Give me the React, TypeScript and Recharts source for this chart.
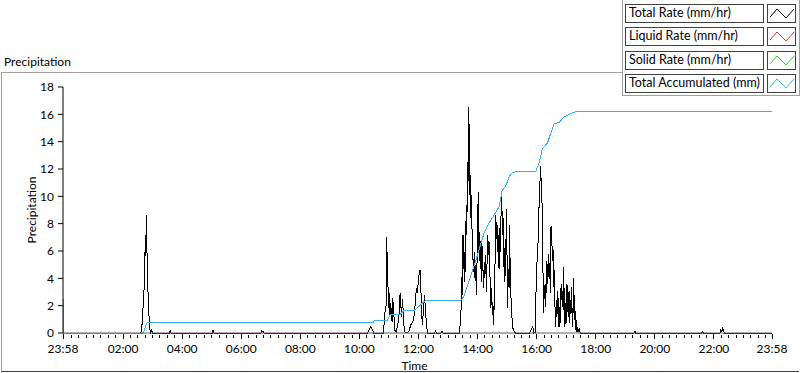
import { Line, LineChart, XAxis, YAxis } from "recharts";

const FONT = "Lato, 'Noto Sans', sans-serif";

// time axis: hours since 23:58 of the previous day
const timeLabels = ["23:58", "02:00", "04:00", "06:00", "08:00", "10:00", "12:00", "14:00", "16:00", "18:00", "20:00", "22:00", "23:58"];
const majorTickMinutes = [0, 122, 242, 362, 482, 602, 722, 842, 962, 1082, 1202, 1322, 1440];
const yTicks = [0, 2, 4, 6, 8, 10, 12, 14, 16, 18];

// Total Rate (mm/hr)
const rateHours = [
  0, 2.6, 2.66, 2.7, 2.74, 2.76, 2.78, 2.8, 2.82, 2.84, 2.86, 2.88, 2.91, 2.94, 2.97, 3.0, 3.03,
  3.6, 3.63, 3.66, 5.05, 5.08, 5.11, 6.7, 6.73, 6.77, 6.8,
  10.3, 10.36, 10.42, 10.46, 10.52,
  10.85, 10.89, 10.94, 10.96, 10.98, 11.01, 11.03, 11.05, 11.07, 11.09, 11.14, 11.16, 11.19, 11.23, 11.28,
  11.35, 11.38, 11.41, 11.43, 11.46, 11.49, 11.53, 11.55, 11.59,
  11.71, 11.77, 11.84, 11.89, 11.93, 11.96, 12.0, 12.03, 12.07, 12.09, 12.11, 12.14, 12.16, 12.2, 12.24, 12.27, 12.31, 12.34,
  12.58, 12.61, 12.64, 12.8, 12.83, 12.86,
  13.42, 13.47, 13.49, 13.52, 13.54, 13.56, 13.58, 13.6, 13.63, 13.65, 13.67, 13.69, 13.72, 13.74, 13.76, 13.79,
  13.81, 13.83, 13.85, 13.87, 13.9, 13.92, 13.94, 13.97, 13.99, 14.01, 14.03, 14.06, 14.08, 14.1, 14.12, 14.15,
  14.17, 14.19, 14.21, 14.24, 14.26, 14.28, 14.31, 14.33, 14.35, 14.37, 14.4, 14.42, 14.44, 14.46, 14.48, 14.51,
  14.53, 14.55, 14.58, 14.6, 14.62, 14.64, 14.67, 14.69, 14.71, 14.73, 14.76, 14.78, 14.8, 14.82, 14.85, 14.87,
  14.89, 14.92, 14.94, 14.96, 14.98, 15.01, 15.03, 15.05, 15.07, 15.1, 15.12, 15.14, 15.16, 15.19, 15.23, 15.28, 15.32,
  15.79, 15.84, 15.9, 15.94, 15.99, 16.02, 16.06, 16.09, 16.11, 16.14, 16.16, 16.18, 16.2, 16.23, 16.25, 16.27,
  16.29, 16.32, 16.34, 16.36, 16.38, 16.41, 16.43, 16.45, 16.47, 16.5, 16.52, 16.54, 16.57, 16.59, 16.61, 16.63,
  16.65, 16.68, 16.7, 16.72, 16.75, 16.77, 16.79, 16.81, 16.84, 16.86, 16.88, 16.9, 16.93, 16.95, 16.97, 16.99,
  17.02, 17.04, 17.06, 17.08, 17.11, 17.13, 17.15, 17.18, 17.2, 17.22, 17.24, 17.27, 17.29, 17.31, 17.33, 17.36,
  17.38, 17.4, 17.42, 17.45, 17.48, 17.51,
  19.33, 19.36, 19.39, 21.62, 21.65, 21.68, 22.24, 22.27, 22.3, 22.33, 22.36, 22.39, 24,
];
const totalRate = [
  0, 0, 0.1, 1.5, 2.9, 5.0, 6.2, 5.6, 8.6, 6.2, 4.5, 2.8, 1.3, 0.3, 0, 0.2, 0,
  0, 0.15, 0, 0, 0.2, 0, 0, 0.15, 0.1, 0,
  0, 0.2, 0.5, 0.3, 0,
  0, 1.44, 2.05, 7.05, 4.37, 3.0, 1.8, 2.9, 1.3, 2.2, 0.8, 2.55, 1.8, 0.2, 0.1,
  0.8, 1.46, 2.9, 2.2, 1.2, 2.5, 1.1, 0.2, 0,
  0.1, 0.6, 0.8, 1.3, 2.3, 3.27, 2.9, 3.9, 4.5, 4.6, 3.4, 1.8, 0.6, 1.56, 2.8, 1.56, 0.46, 0,
  0, 0.15, 0, 0, 0.1, 0,
  0, 1.3, 4.1, 2.8, 7.2, 4.7, 5.95, 3.75, 6.3, 9.37, 7.2, 12.5, 11.1, 16.5, 10.1, 11.56,
  8.4, 10.1, 6.9, 5.7, 4.5, 5.95, 4.0, 4.97, 2.8, 4.2, 8.1, 10.3, 5.95, 7.4, 4.7, 6.7,
  3.75, 6.4, 5.0, 3.27, 5.2, 4.0, 5.7, 3.0, 4.7, 7.2, 5.7, 6.7, 5.0, 3.75, 1.8, 3.27,
  1.3, 2.3, 0.6, 2.8, 4.2, 8.6, 6.9, 8.1, 5.95, 7.2, 4.7, 7.66, 5.95, 8.1, 10.1, 7.2,
  8.9, 5.7, 3.75, 6.2, 4.2, 9.1, 5.7, 1.8, 4.7, 3.27, 7.9, 3.75, 2.8, 1.3, 0.35, 0.1, 0,
  0, 0.2, 0.45, 0, 0.05, 4.1, 5.8, 7.05, 9.0, 10.5, 12.2, 11.4, 10.5, 8.5, 4.1, 1.44,
  3.1, 3.6, 1.9, 3.9, 5.3, 3.6, 5.8, 4.1, 5.1, 2.9, 7.8, 7.3, 5.3, 6.1, 3.4, 4.6,
  2.2, 0.46, 2.4, 1.2, 3.1, 1.44, 0.46, 1.9, 0.7, 3.6, 2.4, 3.1, 1.7, 4.85, 1.7, 0.46,
  2.2, 0.7, 3.6, 1.9, 1.2, 3.1, 0.7, 2.4, 1.44, 3.4, 0.46, 1.7, 4.0, 0.95, 1.7, 0.2,
  0.95, 0.1, 0.46, 0.05, 0.35, 0,
  0, 0.12, 0, 0, 0.1, 0, 0, 0.25, 0.1, 0.4, 0.15, 0, 0,
];

// Total Accumulated (mm)
const accumHours = [
  0, 0.02, 2.7, 2.75, 2.8, 2.85, 2.93, 10.52, 10.53, 10.97, 11.08, 11.42, 11.54, 11.87, 12.04, 12.27,
  13.46, 13.57, 13.68, 13.91, 14.08, 14.25, 14.42, 14.59, 14.76, 14.87, 14.98, 15.1, 15.21, 15.32,
  16.0, 16.11, 16.23, 16.4, 16.51, 16.62, 16.79, 16.96, 17.19, 17.41, 24,
];
const totalAccum = [
  2.56, 0, 0, 0.2, 0.55, 0.75, 0.78, 0.78, 0.9, 0.9, 1.37, 1.37, 1.63, 1.63, 1.93, 2.39,
  2.39, 2.66, 3.39, 4.85, 6.07, 7.29, 8.03, 8.63, 9.24, 10.46, 10.7, 11.44, 11.73, 11.8,
  11.8, 12.4, 13.5, 13.9, 14.6, 15.3, 15.4, 15.8, 16.07, 16.24, 16.24,
];

const legendItems = [
  { name: "Total Rate (mm/hr)", color: "#000000" },
  { name: "Liquid Rate (mm/hr)", color: "#ff2b2b" },
  { name: "Solid Rate (mm/hr)", color: "#1ed81e" },
  { name: "Total Accumulated (mm)", color: "#36b2f2" },
];

const rateData = rateHours.map((t, i) => ({ t, v: totalRate[i] }));
const accumData = accumHours.map((t, i) => ({ t, v: totalAccum[i] }));

// major ticks every 2h (plus both 23:58 ends), minor every 15 min
const xTicks: number[] = [];
for (let m = 2; m < 1440; m += 15) {
  if (!majorTickMinutes.includes(m)) xTicks.push(m / 60);
}
majorTickMinutes.forEach((m) => xTicks.push(m / 60));
xTicks.sort((a, b) => a - b);

const TimeTick = (props: any) => {
  const { x, y, payload } = props;
  const idx = majorTickMinutes.indexOf(Math.round(payload.value * 60));
  const major = idx >= 0;
  return (
    <g>
      <line x1={x} x2={x} y1={y + (major ? 1 : 2)} y2={y + (major ? 6 : 5)} stroke="#000" shapeRendering="crispEdges" />
      {major && (
        <text x={x} y={y + 19.5} textAnchor="middle" fontSize={12} fill="#000" fontFamily={FONT}>
          {timeLabels[idx]}
        </text>
      )}
    </g>
  );
};

const Swatch = ({ color }: { color: string }) => (
  <svg width={27} height={17}>
    <polyline points="2,12 9,4 18,13 26,4" fill="none" stroke={color} strokeWidth={1} />
  </svg>
);

export default function App() {
  return (
    <div style={{ position: "absolute", left: 0, top: 0, width: 800, height: 373, background: "#fff", fontFamily: FONT }}>
      <div
        style={{
          position: "absolute",
          left: 1,
          top: 72,
          width: 798,
          height: 300,
          boxSizing: "border-box",
          borderTop: "1px solid #a0a0a0",
          borderLeft: "1px solid #a0a0a0",
          borderBottom: "1px solid #404040",
        }}
      />
      <div style={{ position: "absolute", left: 4, top: 54, fontSize: 12, lineHeight: "16px", color: "#000" }}>
        Precipitation
      </div>
      <div style={{ position: "absolute", left: 0, top: 0 }}>
        <LineChart width={800} height={373} margin={{ top: 87, right: 28, left: 28, bottom: 0 }}>
          <XAxis
            dataKey="t"
            type="number"
            domain={[0, 24]}
            ticks={xTicks}
            interval={0}
            allowDuplicatedCategory={false}
            height={40}
            tickSize={0}
            tickMargin={0}
            tickLine={false}
            tick={<TimeTick />}
            axisLine={{ stroke: "#606060" }}
            label={{ value: "Time", position: "insideBottom", offset: 3, dx: -3, fontSize: 12, fill: "#000", fontFamily: FONT }}
          />
          <XAxis
            xAxisId="top"
            orientation="top"
            type="number"
            domain={[0, 24]}
            height={0}
            tick={false}
            tickLine={false}
            axisLine={{ stroke: "#000" }}
          />
          <YAxis
            type="number"
            domain={[0, 18]}
            ticks={yTicks}
            interval={0}
            width={35}
            tickSize={5}
            tickMargin={4}
            tickLine={{ stroke: "#000" }}
            axisLine={{ stroke: "#000" }}
            tick={{ fontSize: 12, fill: "#000", fontFamily: FONT }}
            label={{ value: "Precipitation", angle: -90, position: "center", dx: -14, fontSize: 12, fill: "#000", fontFamily: FONT }}
          />
          <YAxis
            yAxisId="right"
            orientation="right"
            type="number"
            domain={[0, 18]}
            width={0}
            tick={false}
            tickLine={false}
            axisLine={{ stroke: "#8c8c8c" }}
          />
          <Line
            data={rateData}
            dataKey="v"
            type="linear"
            stroke="#000"
            strokeWidth={1}
            dot={false}
            shapeRendering="crispEdges"
            isAnimationActive={false}
          />
          <Line
            data={accumData}
            dataKey="v"
            type="linear"
            stroke="#36b2f2"
            strokeWidth={1}
            dot={false}
            shapeRendering="crispEdges"
            isAnimationActive={false}
          />
        </LineChart>
      </div>
      <div
        style={{
          position: "absolute",
          left: 622,
          top: 0,
          width: 178,
          height: 96,
          boxSizing: "border-box",
          background: "#fff",
          borderLeft: "1px solid #a0a0a0",
          borderRight: "1px solid #a0a0a0",
          borderBottom: "1px solid #a0a0a0",
        }}
      >
        {legendItems.map((item, i) => (
          <div key={item.name} style={{ position: "absolute", left: 0, top: 4 + Math.round(i * 23.3) }}>
            <div
              style={{
                position: "absolute",
                left: 2,
                top: 0,
                width: 139,
                height: 19,
                boxSizing: "border-box",
                border: "1px solid #404040",
                paddingLeft: 3,
                fontSize: 12.5,
                lineHeight: "16px",
                color: "#000",
                whiteSpace: "nowrap",
              }}
            >
              {item.name}
            </div>
            <div
              style={{
                position: "absolute",
                left: 144,
                top: 0,
                width: 29,
                height: 19,
                boxSizing: "border-box",
                border: "1px solid #404040",
              }}
            >
              <Swatch color={item.color} />
            </div>
          </div>
        ))}
      </div>
    </div>
  );
}
